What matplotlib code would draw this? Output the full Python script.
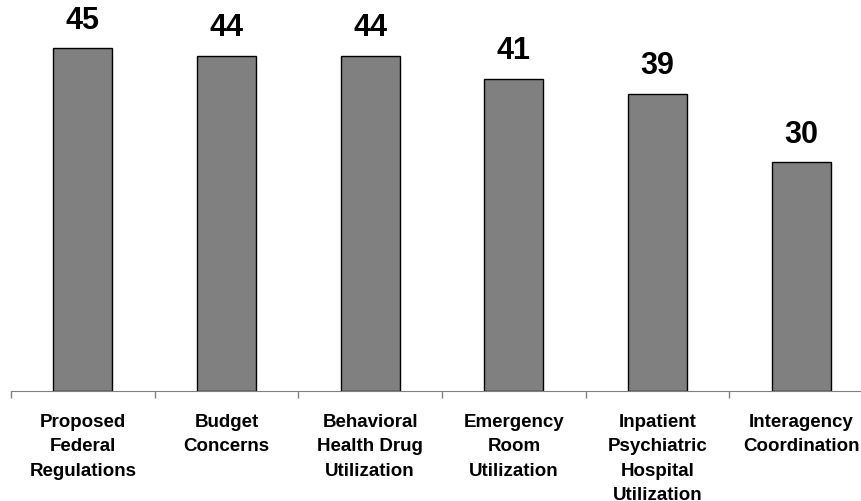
import matplotlib.pyplot as plt
import numpy as np

plt.rcParams['font.family'] = ['Liberation Sans', 'DejaVu Sans']

categories = ["Proposed\nFederal\nRegulations", "Budget\nConcerns",
              "Behavioral\nHealth Drug\nUtilization", "Emergency\nRoom\nUtilization",
              "Inpatient\nPsychiatric\nHospital\nUtilization", "Interagency\nCoordination"]
values = [45, 44, 44, 41, 39, 30]

fig = plt.figure(figsize=(8.62, 5.02), dpi=100)
W, H = 862, 502
ax = fig.add_axes([11 / W, (H - 392) / H, 862 / W, 381 / H])

x = np.arange(len(values))
bars = ax.bar(x, values, width=0.41, color='#808080', edgecolor='black', linewidth=1)

for xi, v in zip(x, values):
    ax.text(xi, v + 1.75, str(v), ha='center', va='bottom', fontsize=22, fontweight='bold')

ax.set_xlim(-0.5, len(values) - 0.5)
ax.set_ylim(0, 50)

for s in ['top', 'right', 'left']:
    ax.spines[s].set_visible(False)
ax.spines['bottom'].set_color('#808080')
ax.set_yticks([])

ax.set_xticks(x)
ax.set_xticklabels(categories, fontsize=13.5, fontweight='bold', linespacing=1.55, va='top')
ax.tick_params(axis='x', which='major', length=0, pad=16)
ax.set_xticks(np.arange(len(values) + 1) - 0.5, minor=True)
ax.tick_params(axis='x', which='minor', length=5, direction='out', color='#808080', width=1)

fig.savefig('out.png', dpi=100)
